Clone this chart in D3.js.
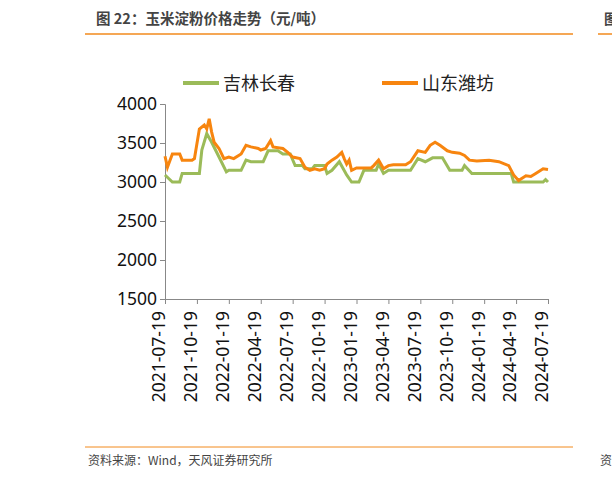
<!DOCTYPE html>
<html><head><meta charset="utf-8">
<script src="https://cdn.jsdelivr.net/npm/d3@7"></script>
<style>body{margin:0;background:#fff}svg{font-family:"Noto Sans CJK SC","Noto Sans",sans-serif}</style>
</head><body>
<svg id="c" width="612" height="477"></svg>
<script>
// week index since 2021-07-19, price yuan/ton
const jlWeeks = [0,3,6,7,14,15,17,19,22,25,26,31,33,35,40,42,46,48,51,53,56,57,60,61,65,66,68,71,74,76,79,81,86,87,89,91,100,103,106,109,113,116,121,122,125,141,142,154,155,156];
const jlVals  = [3090,3000,3000,3110,3110,3410,3620,3510,3320,3130,3150,3150,3280,3260,3260,3400,3400,3360,3360,3210,3210,3170,3170,3210,3210,3110,3150,3260,3090,3000,3000,3150,3150,3230,3110,3150,3150,3300,3260,3310,3310,3150,3150,3210,3110,3110,3000,3000,3030,3000];
const sdWeeks = [0,1,3,6,7,11,12,14,16,17,18,19,20,22,24,26,28,30,31,33,35,38,39,41,43,44,46,48,50,52,55,57,59,61,63,65,66,68,70,72,73,74,75,76,78,84,85,87,89,91,93,98,100,103,106,108,110,112,115,117,120,122,124,127,132,136,140,142,144,147,149,151,154,156];
const sdVals  = [3330,3190,3360,3360,3280,3280,3300,3680,3730,3680,3810,3640,3510,3430,3300,3320,3300,3340,3360,3470,3450,3430,3410,3430,3530,3450,3440,3430,3380,3320,3300,3190,3150,3170,3150,3170,3230,3280,3320,3380,3300,3230,3280,3150,3180,3180,3210,3280,3170,3210,3220,3220,3260,3400,3380,3470,3510,3470,3400,3380,3370,3340,3280,3270,3280,3260,3210,3090,3020,3080,3070,3110,3170,3160];
const tickLabels = ["2021-07-19","2021-10-19","2022-01-19","2022-04-19","2022-07-19","2022-10-19","2023-01-19","2023-04-19","2023-07-19","2023-10-19","2024-01-19","2024-04-19","2024-07-19"];
const yTicks = [1500,2000,2500,3000,3500,4000];

const svg = d3.select("#c");
const x = d3.scaleLinear().domain([0,156]).range([165,548]);
const y = d3.scaleLinear().domain([1500,4000]).range([299,104]);

svg.append("text").attr("x",96).attr("y",24).attr("font-size",14.5).attr("font-weight","bold").attr("fill","#444").text("图 22：玉米淀粉价格走势（元/吨）");
svg.append("line").attr("x1",85).attr("x2",573).attr("y1",34).attr("y2",34).attr("stroke","#f28a1c").attr("stroke-width",1.5);
svg.append("text").attr("x",604).attr("y",24).attr("font-size",14).attr("font-weight","bold").attr("fill","#444").text("图");
svg.append("line").attr("x1",598).attr("x2",612).attr("y1",34).attr("y2",34).attr("stroke","#f28a1c").attr("stroke-width",1.5);

const legend = [["吉林长春","#9bbb59",183],["山东潍坊","#f7850f",382]];
legend.forEach(d=>{
  svg.append("line").attr("x1",d[2]).attr("x2",d[2]+36).attr("y1",83).attr("y2",83).attr("stroke",d[1]).attr("stroke-width",4);
  svg.append("text").attr("x",d[2]+40).attr("y",90).attr("font-size",18).attr("fill","#222").text(d[0]);
});

const ya = svg.append("g").attr("transform","translate(165,0)").call(d3.axisLeft(y).tickValues(yTicks).tickSize(5).tickFormat(d3.format("d")));
ya.selectAll("text").attr("font-size",17.5).attr("fill","#111").attr("font-family","Noto Sans, sans-serif");
ya.selectAll("line,path").attr("stroke","#888");

const xa = svg.append("g").attr("transform","translate(0,299)").call(d3.axisBottom(x).tickValues(tickLabels.map((d,i)=>i*13)).tickSize(5).tickFormat((d,i)=>tickLabels[i]));
xa.selectAll("line,path").attr("stroke","#888");
xa.selectAll("text").attr("font-size",17.5).attr("fill","#111").attr("font-family","Noto Sans, sans-serif")
  .attr("transform","rotate(-90)").attr("text-anchor","end").attr("dx","-12").attr("dy","-0.35em").attr("x",0).attr("y",6);

const line = d3.line().x(d=>x(d[0])).y(d=>y(d[1]));
svg.append("path").datum(jlWeeks.map((w,i)=>[w,jlVals[i]])).attr("d",line).attr("fill","none").attr("stroke","#9bbb59").attr("stroke-width",3);
svg.append("path").datum(sdWeeks.map((w,i)=>[w,sdVals[i]])).attr("d",line).attr("fill","none").attr("stroke","#f7850f").attr("stroke-width",3);

svg.append("line").attr("x1",85).attr("x2",573).attr("y1",447).attr("y2",447).attr("stroke","#f28a1c").attr("stroke-width",1);
svg.append("text").attr("x",88).attr("y",465).attr("font-size",12).attr("fill","#444").text("资料来源：Wind，天风证券研究所");
svg.append("text").attr("x",600).attr("y",465).attr("font-size",12).attr("fill","#444").text("资");
</script>
</body></html>
